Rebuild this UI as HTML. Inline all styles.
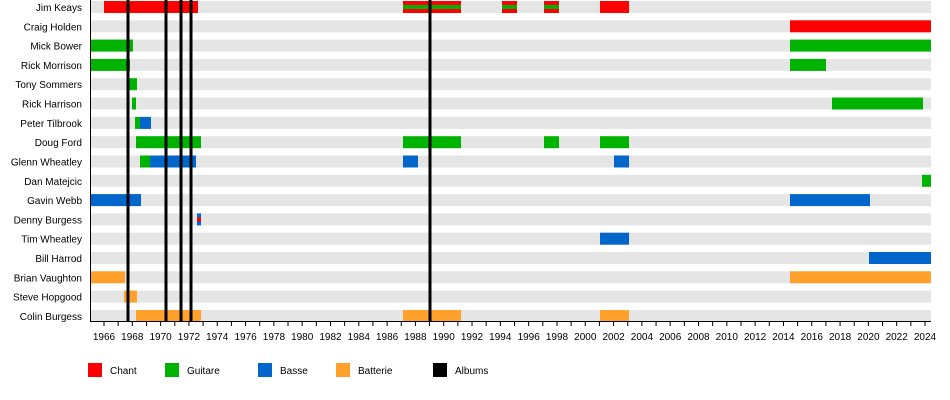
<!DOCTYPE html>
<html><head><meta charset="utf-8"><style>
html,body{margin:0;padding:0;background:#fff;}
svg{display:block;font-family:"Liberation Sans",Arial,sans-serif;}
</style></head><body>
<svg width="950" height="400" viewBox="0 0 950 400" xmlns="http://www.w3.org/2000/svg">
<g fill="#e5e5e5">
<rect x="91" y="1" width="840" height="12"/>
<rect x="91" y="20.3" width="840" height="12"/>
<rect x="91" y="39.6" width="840" height="12"/>
<rect x="91" y="58.9" width="840" height="12"/>
<rect x="91" y="78.2" width="840" height="12"/>
<rect x="91" y="97.5" width="840" height="12"/>
<rect x="91" y="116.9" width="840" height="12"/>
<rect x="91" y="136.2" width="840" height="12"/>
<rect x="91" y="155.5" width="840" height="12"/>
<rect x="91" y="174.8" width="840" height="12"/>
<rect x="91" y="194.1" width="840" height="12"/>
<rect x="91" y="213.4" width="840" height="12"/>
<rect x="91" y="232.7" width="840" height="12"/>
<rect x="91" y="252" width="840" height="12"/>
<rect x="91" y="271.3" width="840" height="12"/>
<rect x="91" y="290.6" width="840" height="12"/>
<rect x="91" y="310" width="840" height="12"/>
</g>
<!-- Jim Keays -->
<g>
<rect x="104" y="1" width="94" height="12" fill="#ff0000"/>
<rect x="403" y="1" width="58" height="12" fill="#ff0000"/>
<rect x="403" y="5" width="58" height="4" fill="#00b300"/>
<rect x="502" y="1" width="15" height="12" fill="#ff0000"/>
<rect x="502" y="5" width="15" height="4" fill="#00b300"/>
<rect x="544" y="1" width="15" height="12" fill="#ff0000"/>
<rect x="544" y="5" width="15" height="4" fill="#00b300"/>
<rect x="600" y="1" width="29" height="12" fill="#ff0000"/>
</g>
<rect x="790" y="20.3" width="141" height="12" fill="#ff0000"/>
<g fill="#00b300">
<rect x="91" y="39.6" width="42" height="12"/>
<rect x="790" y="39.6" width="141" height="12"/>
<rect x="91" y="58.9" width="39" height="12"/>
<rect x="790" y="58.9" width="36" height="12"/>
<rect x="129" y="78.2" width="8" height="12"/>
<rect x="132" y="97.5" width="4" height="12"/>
<rect x="832" y="97.5" width="91" height="12"/>
<rect x="135" y="116.9" width="5" height="12"/>
<rect x="136" y="136.2" width="65" height="12"/>
<rect x="403" y="136.2" width="58" height="12"/>
<rect x="544" y="136.2" width="15" height="12"/>
<rect x="600" y="136.2" width="29" height="12"/>
<rect x="140" y="155.5" width="10" height="12"/>
<rect x="922" y="174.8" width="9" height="12"/>
</g>
<g fill="#0066cc">
<rect x="140" y="116.9" width="11" height="12"/>
<rect x="150" y="155.5" width="46" height="12"/>
<rect x="403" y="155.5" width="15" height="12"/>
<rect x="614" y="155.5" width="15" height="12"/>
<rect x="91" y="194.1" width="50" height="12"/>
<rect x="790" y="194.1" width="80" height="12"/>
<rect x="197" y="213.4" width="4" height="12"/>
<rect x="600" y="232.7" width="29" height="12"/>
<rect x="869" y="252" width="62" height="12"/>
</g>
<rect x="197" y="217.4" width="4" height="4" fill="#ff0000"/>
<g fill="#ffa12b">
<rect x="91" y="271.3" width="34" height="12"/>
<rect x="790" y="271.3" width="141" height="12"/>
<rect x="124" y="290.6" width="13" height="12"/>
<rect x="136" y="310" width="65" height="12"/>
<rect x="403" y="310" width="58" height="12"/>
<rect x="600" y="310" width="29" height="12"/>
</g>
<g stroke="#000" stroke-width="3">
<line x1="128" y1="0" x2="128" y2="321"/>
<line x1="166" y1="0" x2="166" y2="321"/>
<line x1="181" y1="0" x2="181" y2="321"/>
<line x1="191" y1="0" x2="191" y2="321"/>
<line x1="430" y1="0" x2="430" y2="321"/>
</g>
<line x1="90.5" y1="0" x2="90.5" y2="322" stroke="#000" stroke-width="1"/>
<line x1="90" y1="321.5" x2="931" y2="321.5" stroke="#000" stroke-width="1"/>
<line x1="103.5" y1="323.5" x2="931" y2="323.5" stroke="#000" stroke-width="5" stroke-dasharray="1 13.155"/>
<g font-size="10" fill="#000" text-anchor="end">
<text x="82" y="11">Jim Keays</text>
<text x="82" y="30.3">Craig Holden</text>
<text x="82" y="49.6">Mick Bower</text>
<text x="82" y="68.9">Rick Morrison</text>
<text x="82" y="88.2">Tony Sommers</text>
<text x="82" y="107.5">Rick Harrison</text>
<text x="82" y="126.9">Peter Tilbrook</text>
<text x="82" y="146.2">Doug Ford</text>
<text x="82" y="165.5">Glenn Wheatley</text>
<text x="82" y="184.8">Dan Matejcic</text>
<text x="82" y="204.1">Gavin Webb</text>
<text x="82" y="223.4">Denny Burgess</text>
<text x="82" y="242.7">Tim Wheatley</text>
<text x="82" y="262">Bill Harrod</text>
<text x="82" y="281.3">Brian Vaughton</text>
<text x="82" y="300.6">Steve Hopgood</text>
<text x="82" y="320">Colin Burgess</text>
</g>
<g font-size="10" fill="#000" text-anchor="middle">
<text x="104" y="340">1966</text><text x="132.3" y="340">1968</text><text x="160.6" y="340">1970</text>
<text x="188.9" y="340">1972</text><text x="217.2" y="340">1974</text><text x="245.6" y="340">1976</text>
<text x="273.9" y="340">1978</text><text x="302.2" y="340">1980</text><text x="330.5" y="340">1982</text>
<text x="358.8" y="340">1984</text><text x="387.1" y="340">1986</text><text x="415.4" y="340">1988</text>
<text x="443.7" y="340">1990</text><text x="472" y="340">1992</text><text x="500.3" y="340">1994</text>
<text x="528.7" y="340">1996</text><text x="557" y="340">1998</text><text x="585.3" y="340">2000</text>
<text x="613.6" y="340">2002</text><text x="641.9" y="340">2004</text><text x="670.2" y="340">2006</text>
<text x="698.5" y="340">2008</text><text x="726.8" y="340">2010</text><text x="755.1" y="340">2012</text>
<text x="783.4" y="340">2014</text><text x="811.8" y="340">2016</text><text x="840.1" y="340">2018</text>
<text x="868.4" y="340">2020</text><text x="896.7" y="340">2022</text><text x="925" y="340">2024</text>
</g>
<g font-size="10" fill="#000">
<rect x="88" y="363" width="14" height="14" fill="#ff0000"/><text x="110" y="374">Chant</text>
<rect x="165" y="363" width="14" height="14" fill="#00b300"/><text x="187" y="374">Guitare</text>
<rect x="258" y="363" width="14" height="14" fill="#0066cc"/><text x="280" y="374">Basse</text>
<rect x="336" y="363" width="14" height="14" fill="#ffa12b"/><text x="358" y="374">Batterie</text>
<rect x="433" y="363" width="14" height="14" fill="#000"/><text x="455" y="374">Albums</text>
</g>
</svg>
</body></html>
